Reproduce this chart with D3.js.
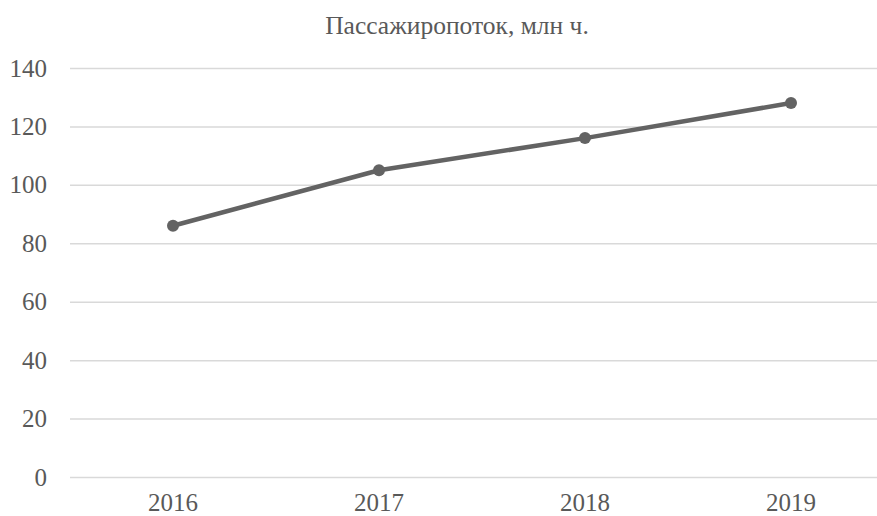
<!DOCTYPE html>
<html><head><meta charset="utf-8">
<script src="https://cdn.jsdelivr.net/npm/d3@7"></script>
<style>body{margin:0;background:#fff}svg{display:block}</style>
</head><body>
<svg id="c" width="877" height="516"></svg>
<script>
const title = "Пассажиропоток, млн ч.";
const years = ["2016", "2017", "2018", "2019"];
const passengers = [86, 105, 116, 128];
const yTicks = [0, 20, 40, 60, 80, 100, 120, 140];

const svg = d3.select("#c");
const W = 877, H = 516;
const mLeft = 70, mRight = 894, mTop = 68, mBottom = 477;

const x = d3.scaleBand().domain(years).range([mLeft, mRight]);
const y = d3.scaleLinear().domain([0, 140]).range([mBottom, mTop]);

svg.append("rect").attr("width", W).attr("height", H).attr("fill", "#fff");

svg.append("text").attr("x", 457).attr("y", 34).attr("text-anchor", "middle")
  .attr("font-family", "Liberation Serif").attr("font-size", 25.5).attr("fill", "#595959")
  .text(title);

const yAxis = d3.axisLeft(y).tickValues(yTicks).tickSize(-(W - mLeft)).tickPadding(23);
const gy = svg.append("g").attr("transform", `translate(${mLeft},0)`).call(yAxis);
gy.select(".domain").remove();
gy.selectAll(".tick line").attr("stroke", "#d9d9d9").attr("stroke-width", 1.5);
gy.selectAll(".tick text").attr("font-family", "Liberation Serif").attr("font-size", 25).attr("fill", "#595959");

const xAxis = d3.axisBottom(x).tickSize(0);
const gx = svg.append("g").attr("transform", `translate(0,${mBottom})`).call(xAxis);
gx.select(".domain").remove();
gx.selectAll(".tick text").attr("font-family", "Liberation Serif").attr("font-size", 25).attr("fill", "#595959")
  .attr("y", 34).attr("dy", 0);

const cx = d => x(d) + x.bandwidth() / 2;
const line = d3.line().x((d, i) => cx(years[i])).y(d => y(d));
svg.append("path").datum(passengers).attr("d", line).attr("fill", "none")
  .attr("stroke", "#636363").attr("stroke-width", 4.5).attr("stroke-linejoin", "round");
svg.selectAll("circle.m").data(passengers).join("circle").attr("class", "m")
  .attr("cx", (d, i) => cx(years[i])).attr("cy", d => y(d)).attr("r", 6).attr("fill", "#636363");
</script>
</body></html>
